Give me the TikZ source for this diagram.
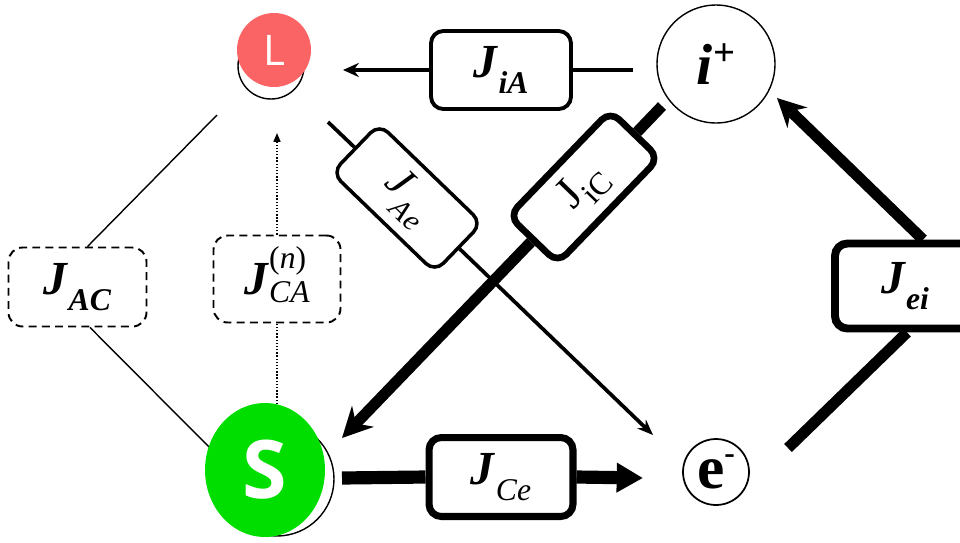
\documentclass[tikz,border=0pt]{standalone}
\usepackage{fontspec}
\setmainfont{Liberation Serif}
\newfontfamily\labelsans{Open Sans}
\usetikzlibrary{arrows.meta,shapes.geometric}
\definecolor{lred}{RGB}{250,100,100}
\definecolor{sgreen}{RGB}{0,222,0}
\newcommand\Jbi[1]{\textbf{\textit{J}}\raisebox{-9pt}{\fontsize{18}{19}\selectfont\textbf{\textit{#1}}}}
\newcommand\Jit[1]{\textbf{\textit{J}}\raisebox{-9pt}{\fontsize{18}{19}\selectfont\textit{#1}}}
\begin{document}
\begin{tikzpicture}[x=0.02cm,y=-0.02cm,
  flux/.style={draw, fill=white, rounded corners=7pt, inner sep=0pt, line width=2.2pt,
    font=\fontsize{27}{30}\selectfont},
  dflux/.style={draw, fill=white, rounded corners=8pt, inner sep=0pt, line width=1.1pt,
    dash pattern=on 4.5pt off 3pt, font=\fontsize{27}{30}\selectfont},
  ring/.style={circle, draw, fill=white, line width=0.8pt, inner sep=0pt},
  thinl/.style={line width=0.8pt},
  medl/.style={line width=2.1pt},
  thickl/.style={line width=6.3pt}]
\useasboundingbox (0,0) rectangle (960,542);
\clip (0,0) rectangle (960,542);

% named end points
\coordinate (iAs) at (633,70);
\coordinate (iAe) at (343,70);
\coordinate (AeS) at (328,122);
\coordinate (AeE) at (653,435);
\coordinate (iCs) at (662,106);
\coordinate (iCe) at (342,438);
\coordinate (CeS) at (342,478);
\coordinate (CeE) at (643,478);
\coordinate (eiS) at (788,448);
\coordinate (eiE) at (777,98);
\coordinate (ACs) at (217,115);
\coordinate (ACe) at (214,452);
\coordinate (CAs) at (277,420);
\coordinate (CAe) at (277,133);

% flux boxes
\node[flux, minimum width=2.8cm, minimum height=1.56cm] (JiA) at (501,70) {\Jbi{iA}};
\node[dflux, minimum width=2.76cm, minimum height=1.58cm] (JAC) at (77.5,287) {\Jbi{AC}};
\node[dflux, minimum width=2.54cm, minimum height=1.74cm] (JCA) at (277,279)
  {\textbf{\textit{J}}\raisebox{-4.5pt}{\fontsize{18}{19}\selectfont\begin{tabular}[b]{@{}l@{}}(\textit{n})\\\textit{CA}\end{tabular}}};
\node[flux, line width=2pt, rotate=-44, minimum width=2.86cm, minimum height=1.36cm,
  font=\fontsize{25}{27}\selectfont] (JAe) at (407,198)
  {\textit{J}\raisebox{-9pt}{\fontsize{17}{18}\selectfont\textit{Ae}}};
\node[flux, line width=3.8pt, rotate=46, minimum width=2.92cm, minimum height=1.36cm,
  font=\fontsize{26}{28}\selectfont] (JiC) at (584,187)
  {J\raisebox{-7pt}{\fontsize{18}{19}\selectfont iC}};
\node[flux, line width=4pt, minimum width=2.88cm, minimum height=1.58cm] (JCe) at (501,477) {\Jit{Ce}};
\node[flux, line width=4.5pt, minimum width=2.8cm, minimum height=1.7cm] (Jei) at (905,286) {\Jbi{ei}};

% connectors
\draw[medl] (iAs) -- (JiA.east);
\draw[medl, -{Stealth[length=9pt,width=8pt]}] (JiA.west) -- (iAe);
\draw[medl] (AeS) -- (JAe.west);
\draw[medl, -{Stealth[length=9pt,width=7pt]}] (JAe.east) -- (AeE);
\draw[thickl] (iCs) -- (JiC.east);
\draw[thickl, -{Stealth[length=17pt,width=17pt]}] (JiC.west) -- (iCe);
\draw[line width=7.5pt] (CeS) -- (JCe.west);
\draw[line width=7.5pt, -{Triangle[length=15pt,width=16pt]}] (JCe.east) -- (CeE);
\draw[thickl] (eiS) -- ([xshift=0.04cm]Jei.south);
\draw[thickl, -{Stealth[length=16pt,width=16pt]}] ([xshift=0.36cm]Jei.north) -- (eiE);
\draw[thinl] (ACs) -- ([xshift=0.2cm]JAC.north);
\draw[thinl] ([xshift=0.25cm]JAC.south) -- (ACe);
\draw[thinl, densely dotted] (CAs) -- (JCA.south);
\draw[thinl, densely dotted, -{Triangle[length=5pt,width=4pt]}] (JCA.north) -- (CAe);

% species circles
\node[ring, minimum size=1.32cm] (A) at (271,66) {};
\node[circle, fill=lred, minimum size=1.48cm, inner sep=0pt, text=white,
  font=\labelsans\fontsize{24}{26}\selectfont] (L) at (274,50) {L};
\node[ring, minimum size=2.36cm] (ip) at (716,64)
  {\fontsize{33}{36}\selectfont\textbf{\textit{i}}\raisebox{11pt}{\fontsize{22}{22}\selectfont\textbf{+}}};
\node[ring, line width=1pt, minimum size=1.32cm] (em) at (716,472)
  {\fontsize{35}{36}\selectfont\textbf{e}\raisebox{14pt}{\fontsize{18}{18}\selectfont\textbf{-}}};
\node[ring, minimum size=2.28cm] (C) at (277,479) {};
\node[ellipse, fill=sgreen, minimum width=2.4cm, minimum height=2.68cm, inner sep=0pt,
  text=white, font=\labelsans\bfseries\fontsize{46}{48}\selectfont] (S) at (265,470) {S};
\end{tikzpicture}
\end{document}
